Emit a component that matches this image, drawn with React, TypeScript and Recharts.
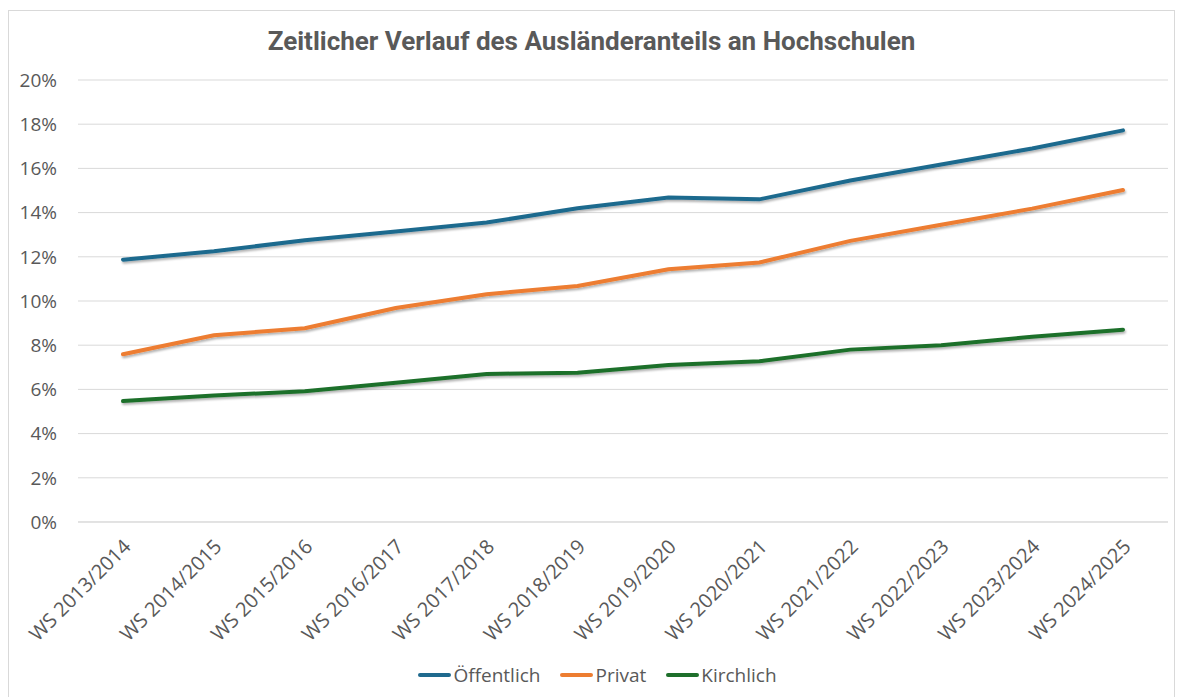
import { CartesianGrid, Legend, Line, LineChart, XAxis, YAxis } from "recharts";

const semesters = [
  "WS 2013/2014",
  "WS 2014/2015",
  "WS 2015/2016",
  "WS 2016/2017",
  "WS 2017/2018",
  "WS 2018/2019",
  "WS 2019/2020",
  "WS 2020/2021",
  "WS 2021/2022",
  "WS 2022/2023",
  "WS 2023/2024",
  "WS 2024/2025",
];

const oeffentlich = [11.87, 12.25, 12.75, 13.15, 13.55, 14.2, 14.68, 14.6, 15.45, 16.18, 16.9, 17.72];
const privat = [7.59, 8.45, 8.77, 9.68, 10.31, 10.68, 11.44, 11.74, 12.72, 13.45, 14.18, 15.02];
const kirchlich = [5.47, 5.72, 5.92, 6.3, 6.7, 6.75, 7.1, 7.27, 7.8, 8.0, 8.38, 8.7];

const yTicks = [0, 2, 4, 6, 8, 10, 12, 14, 16, 18, 20];
const legendOrder = ["Öffentlich", "Privat", "Kirchlich"];

const data = semesters.map((s, i) => ({
  name: s,
  oeffentlich: oeffentlich[i],
  privat: privat[i],
  kirchlich: kirchlich[i],
}));

const TEXT = "#595959";
const FONT = "'Open Sans', sans-serif";

function XTick(props: any) {
  const { x, y, payload } = props;
  const ax = x + 9;
  const ay = y + 18;
  return (
    <text
      x={ax}
      y={ay}
      transform={`rotate(-45, ${ax}, ${ay})`}
      textAnchor="end"
      fill={TEXT}
      fontSize={20}
      fontFamily={FONT}
    >
      {payload.value}
    </text>
  );
}

function LegendContent(props: any) {
  const items = [...(props.payload || [])].sort(
    (a: any, b: any) => legendOrder.indexOf(a.value) - legendOrder.indexOf(b.value)
  );
  return (
    <div style={{ display: "flex", justifyContent: "center", gap: 20, paddingLeft: 18 }}>
      {items.map((p: any) => (
        <div key={p.value} style={{ display: "flex", alignItems: "center" }}>
          <span
            style={{
              display: "inline-block",
              width: 33,
              height: 4,
              borderRadius: 2,
              background: p.color,
              marginRight: 2,
            }}
          />
          <span style={{ color: TEXT, fontSize: 19, fontFamily: FONT }}>{p.value}</span>
        </div>
      ))}
    </div>
  );
}

export default function App() {
  return (
    <div
      style={{
        position: "relative",
        width: 1165,
        height: 686,
        marginTop: 2,
        border: "1px solid #d9d9d9",
        background: "#fff",
      }}
    >
      <svg width={0} height={0} style={{ position: "absolute" }}>
        <defs>
          <filter id="lineShadow" x="-5%" y="-20%" width="110%" height="140%">
            <feDropShadow dx="1" dy="2" stdDeviation="1.2" floodColor="#000" floodOpacity="0.3" />
          </filter>
        </defs>
      </svg>
      <div
        style={{
          position: "absolute",
          top: 15,
          left: 0,
          width: "100%",
          textAlign: "center",
          color: TEXT,
          fontFamily: "Roboto, sans-serif",
          fontWeight: 700,
          fontSize: 26,
        }}
      >
        Zeitlicher Verlauf des Ausländeranteils an Hochschulen
      </div>
      <LineChart
        width={1165}
        height={686}
        data={data}
        margin={{ top: 69, right: 6, left: 0, bottom: 11 }}
      >
        <CartesianGrid vertical={false} stroke="#d9d9d9" strokeWidth={1} />
        <XAxis
          dataKey="name"
          interval={0}
          height={140}
          padding={{ left: 45, right: 45 }}
          axisLine={{ stroke: "#d9d9d9" }}
          tickLine={false}
          tick={<XTick />}
        />
        <YAxis
          domain={[0, 20]}
          ticks={yTicks}
          width={69}
          axisLine={false}
          tickLine={false}
          tickFormatter={(v: number) => `${v}%`}
          tick={{ fill: TEXT, fontSize: 19, fontFamily: FONT }}
          tickMargin={15}
        />
        <Legend verticalAlign="bottom" height={24} content={<LegendContent />} />
        <Line
          name="Öffentlich"
          dataKey="oeffentlich"
          stroke="#1f6a8e"
          strokeWidth={4}
          dot={false}
          strokeLinecap="round"
          filter="url(#lineShadow)"
          isAnimationActive={false}
        />
        <Line
          name="Privat"
          dataKey="privat"
          stroke="#ed7d31"
          strokeWidth={4}
          dot={false}
          strokeLinecap="round"
          filter="url(#lineShadow)"
          isAnimationActive={false}
        />
        <Line
          name="Kirchlich"
          dataKey="kirchlich"
          stroke="#1e6f2b"
          strokeWidth={4}
          dot={false}
          strokeLinecap="round"
          filter="url(#lineShadow)"
          isAnimationActive={false}
        />
      </LineChart>
    </div>
  );
}
